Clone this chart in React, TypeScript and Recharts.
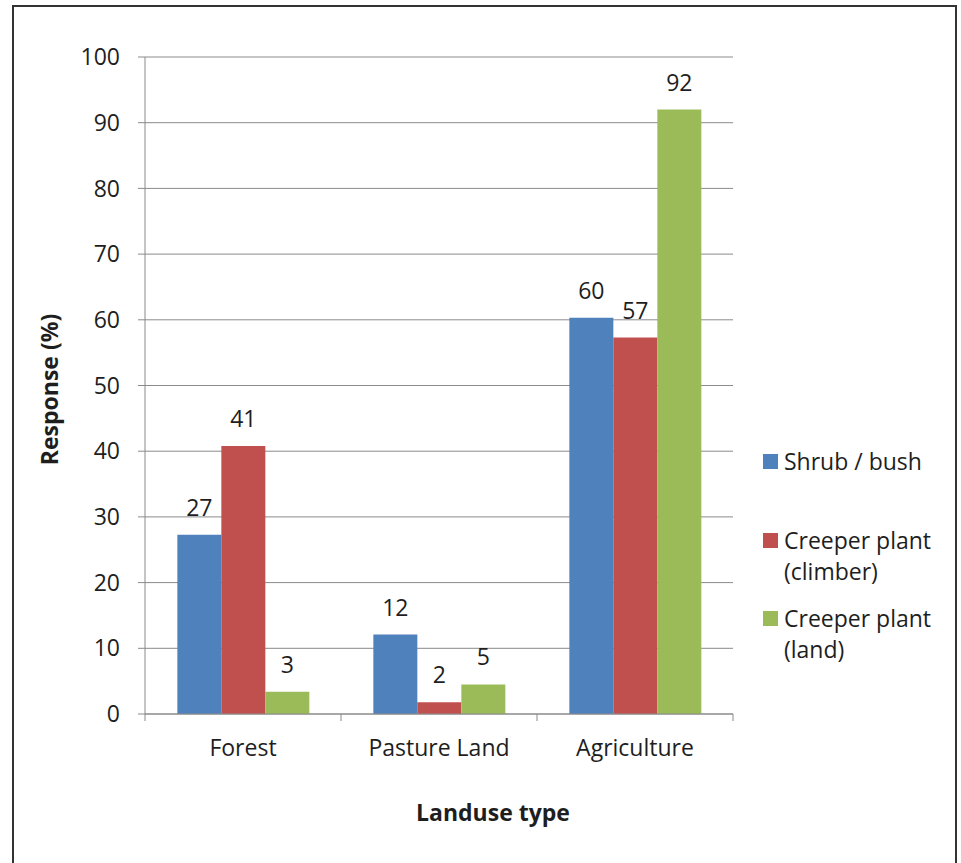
import { Bar, BarChart, CartesianGrid, LabelList, Legend, XAxis, YAxis } from "recharts";

const landuseTypes = ["Forest", "Pasture Land", "Agriculture"];
const shrubBush = [27.3, 12.1, 60.3];
const creeperClimber = [40.8, 1.8, 57.3];
const creeperLand = [3.4, 4.5, 92.0];
const yTicks = [0, 10, 20, 30, 40, 50, 60, 70, 80, 90, 100];

const seriesKeys = ["shrub", "climber", "land"];
const seriesNames = ["Shrub / bush", "Creeper plant (climber)", "Creeper plant (land)"];
const seriesColors = ["#4F81BD", "#C0504D", "#9BBB59"];

const data = landuseTypes.map((type, i) => ({
  type,
  shrub: shrubBush[i],
  climber: creeperClimber[i],
  land: creeperLand[i],
}));

const AXIS = "#8a8a8a";
const TEXT = "#1e1e1e";

// category label plus the tick marks Excel puts between categories
function CategoryTick(props: any) {
  const { x, y, payload, index } = props;
  const half = payload?.offset ?? 0;
  const axisY = y - 7 - 19;
  return (
    <g>
      {half > 0 && <line x1={x - half} x2={x - half} y1={axisY} y2={axisY + 7} stroke={AXIS} />}
      {half > 0 && index === landuseTypes.length - 1 && (
        <line x1={x + half} x2={x + half} y1={axisY} y2={axisY + 7} stroke={AXIS} />
      )}
      <text x={x} y={y} dy="0.71em" textAnchor="middle" fill={TEXT} fontSize={23}>
        {payload.value}
      </text>
    </g>
  );
}

function YTitle(props: any) {
  const vb = props.viewBox;
  const cx = vb.x + 4;
  const cy = vb.y + vb.height / 2 + 4;
  return (
    <text
      x={cx}
      y={cy}
      transform={`rotate(-90 ${cx} ${cy})`}
      textAnchor="middle"
      dominantBaseline="central"
      fontWeight="bold"
      fontSize={23}
      fill={TEXT}
    >
      Response (%)
    </text>
  );
}

function XTitle(props: any) {
  const vb = props.viewBox;
  return (
    <text
      x={vb.x + vb.width / 2 + 54}
      y={vb.y + vb.height - 13}
      textAnchor="middle"
      fontWeight="bold"
      fontSize={23}
      fill={TEXT}
    >
      Landuse type
    </text>
  );
}

function SideLegend() {
  return (
    <div style={{ width: 190 }}>
      {seriesNames.map((name, i) => (
        <div
          key={name}
          style={{ display: "flex", alignItems: "flex-start", marginBottom: i === 0 ? 48 : 16 }}
        >
          <span
            style={{
              width: 15,
              height: 15,
              background: seriesColors[i],
              marginTop: 8,
              marginRight: 6,
              flex: "none",
            }}
          />
          <span style={{ fontSize: 23, lineHeight: "31px", color: TEXT, width: 160 }}>{name}</span>
        </div>
      ))}
    </div>
  );
}

export default function App() {
  return (
    <div
      style={{
        position: "absolute",
        left: 0,
        top: 0,
        width: 961,
        height: 863,
        overflow: "hidden",
        background: "#fff",
        fontFamily: "'Open Sans', sans-serif",
      }}
    >
      <div
        style={{
          position: "absolute",
          left: 12,
          top: 5,
          width: 945,
          height: 858,
          border: "2px solid #333",
          borderBottom: "none",
          boxSizing: "border-box",
        }}
      />
      <div style={{ position: "absolute", left: 0, top: 0 }}>
        <BarChart
          width={961}
          height={863}
          data={data}
          margin={{ top: 57, right: 228, bottom: 29, left: 45 }}
          barGap={0}
          barCategoryGap="16.5%"
        >
          <CartesianGrid vertical={false} stroke={AXIS} />
          <XAxis
            dataKey="type"
            interval={0}
            height={120}
            tickLine={false}
            tickSize={7}
            tickMargin={19}
            axisLine={{ stroke: AXIS }}
            tick={<CategoryTick />}
            label={(p: any) => <XTitle {...p} />}
          />
          <YAxis
            domain={[0, 100]}
            ticks={yTicks}
            width={100}
            tickSize={7}
            tickMargin={18}
            tickLine={{ stroke: AXIS }}
            axisLine={{ stroke: AXIS }}
            tick={{ fill: TEXT, fontSize: 23 }}
            label={(p: any) => <YTitle {...p} />}
          />
          <Legend
            layout="vertical"
            align="center"
            verticalAlign="middle"
            wrapperStyle={{ left: 763, top: 446, width: 190 }}
            content={() => <SideLegend />}
          />
          {seriesKeys.map((key, i) => (
            <Bar key={key} dataKey={key} name={seriesNames[i]} fill={seriesColors[i]} isAnimationActive={false}>
              <LabelList
                dataKey={key}
                position="top"
                offset={19}
                fill={TEXT}
                fontSize={23}
                formatter={(v: any) => Math.round(Number(v))}
              />
            </Bar>
          ))}
        </BarChart>
      </div>
    </div>
  );
}
